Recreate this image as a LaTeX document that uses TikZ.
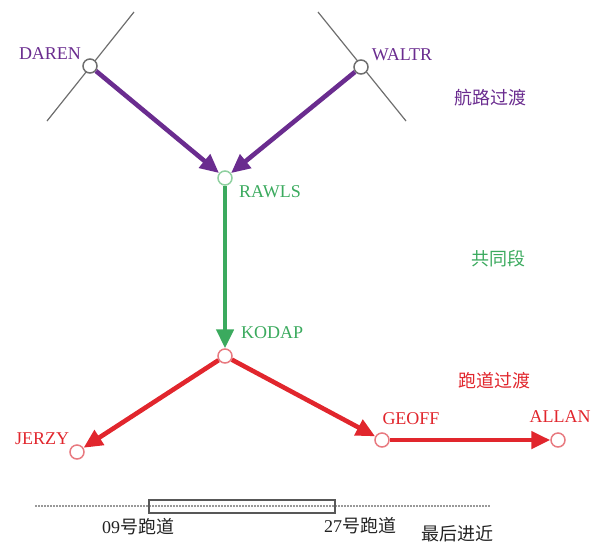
\documentclass[tikz,border=0pt]{standalone}
\usepackage{fontspec}
\setmainfont{Liberation Serif}
\newfontfamily\cjk{Noto Sans CJK SC}
\usetikzlibrary{arrows.meta}
\definecolor{routepurple}{HTML}{6A2C8F}
\definecolor{commongreen}{HTML}{3BAA5E}
\definecolor{rwyred}{HTML}{E1262D}
\definecolor{fixgray}{HTML}{6E6E6E}
\definecolor{lightgreen}{HTML}{8FD0A0}
\definecolor{lightred}{HTML}{E87A80}
\definecolor{textdark}{HTML}{222222}
\tikzset{
  wp/.style={circle, minimum size=14pt, inner sep=0pt, line width=1.5pt, fill=white},
  lbl/.style={inner sep=0pt, font=\fontsize{18}{20}\selectfont},
  leg/.style={inner sep=0pt, font=\fontsize{18}{20}\selectfont\cjk},
  legarrow/.style={line width=4.6pt, -{Triangle[length=19pt,width=17pt]}},
  fixline/.style={draw=fixgray, line width=1.2pt},
}
\begin{document}
\begin{tikzpicture}[x=1pt,y=-1pt]
\useasboundingbox (0,0) rectangle (601,544);
% fix lines
\coordinate (d1) at (134,12);
\coordinate (d2) at (47,121);
\coordinate (w1) at (318,12);
\coordinate (w2) at (406,121);
\draw[fixline] (d1) -- (d2);
\draw[fixline] (w1) -- (w2);
% waypoints
\node[wp, draw=fixgray] (daren) at (90,66) {};
\node[wp, draw=fixgray] (waltr) at (361,67) {};
\node[wp, draw=lightgreen] (rawls) at (225,178) {};
\node[wp, draw=lightred] (kodap) at (225,356) {};
\node[wp, draw=lightred] (jerzy) at (77,452) {};
\node[wp, draw=lightred] (geoff) at (382,440) {};
\node[wp, draw=lightred] (allan) at (558,440) {};
% connectors
\draw[legarrow, routepurple] (daren) -- (rawls);
\draw[legarrow, routepurple] (waltr) -- (rawls);
\draw[legarrow, commongreen] (rawls) -- (kodap);
\draw[legarrow, rwyred] (kodap) -- (jerzy);
\draw[legarrow, rwyred] (kodap) -- (geoff);
\draw[legarrow, rwyred] (geoff) -- (allan);
% labels
\node[lbl, text=routepurple] (tdaren) at (50,54) {DAREN};
\node[lbl, text=routepurple] (twaltr) at (402,55) {WALTR};
\node[lbl, text=commongreen, anchor=west] (trawls) at (239,192) {RAWLS};
\node[lbl, text=commongreen, anchor=west] (tkodap) at (241,333) {KODAP};
\node[lbl, text=rwyred] (tjerzy) at (42,439) {JERZY};
\node[lbl, text=rwyred] (tgeoff) at (411,419) {GEOFF};
\node[lbl, text=rwyred] (tallan) at (560,417) {ALLAN};
\node[leg, text=routepurple] (l1) at (490,98) {航路过渡};
\node[leg, text=commongreen] (l2) at (498,259) {共同段};
\node[leg, text=rwyred] (l3) at (494,381) {跑道过渡};
% runway
\coordinate (c1) at (35,506);
\coordinate (c2) at (490,506);
\draw[draw=fixgray!70, line width=1.2pt, dash pattern=on 2pt off 1pt] (c1) -- (c2);
\node[draw=fixgray!80!black, line width=2pt, minimum width=186pt, minimum height=13pt, inner sep=0pt] (rwy) at (242,506) {};
\node[lbl, text=textdark] (r09) at (138,527) {09{\cjk 号跑道}};
\node[lbl, text=textdark] (r27) at (360,526) {27{\cjk 号跑道}};
\node[leg, text=textdark] (fin) at (457,534) {最后进近};
\end{tikzpicture}
\end{document}
